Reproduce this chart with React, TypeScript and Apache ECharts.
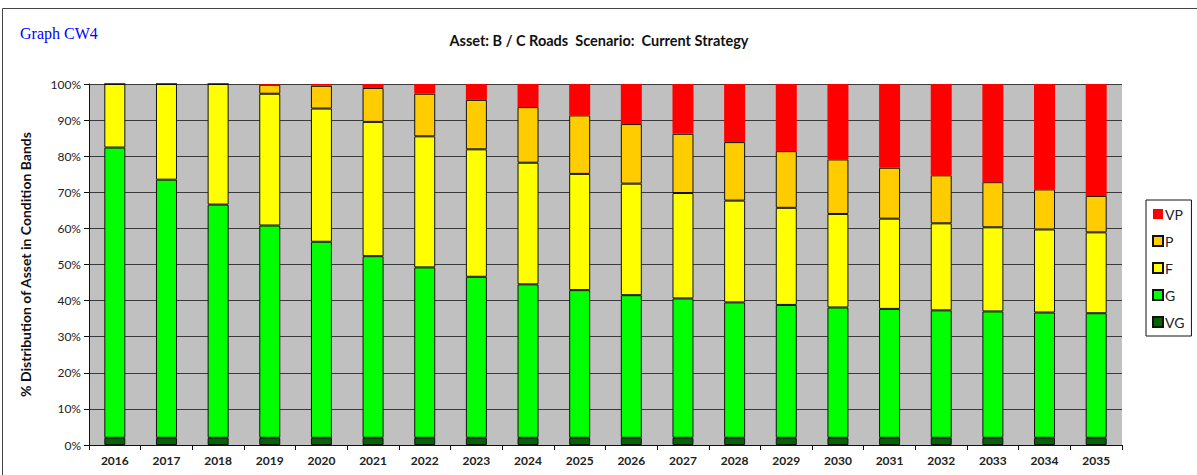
import React, { useEffect, useRef } from "react";
import * as echarts from "echarts";

const years = ["2016","2017","2018","2019","2020","2021","2022","2023","2024","2025","2026","2027","2028","2029","2030","2031","2032","2033","2034","2035"];
const vgValues = [2, 2, 2, 2, 2, 2, 2, 2, 2, 2, 2, 2, 2, 2, 2, 2, 2, 2, 2, 2];
const gValues = [80.4, 71.5, 64.6, 58.8, 54.3, 50.3, 47.2, 44.6, 42.5, 40.9, 39.5, 38.6, 37.5, 36.8, 36.1, 35.7, 35.3, 35.0, 34.7, 34.5];
const fValues = [17.6, 26.5, 33.4, 36.5, 36.9, 37.2, 36.3, 35.3, 33.7, 32.2, 30.9, 29.2, 28.2, 26.9, 25.9, 25.0, 24.1, 23.3, 23.0, 22.4];
const pValues = [0, 0, 0, 2.5, 6.3, 9.4, 11.8, 13.7, 15.4, 16.2, 16.5, 16.4, 16.2, 15.7, 15.1, 14.1, 13.3, 12.5, 11.1, 10.1];
const vpValues = [0, 0, 0, 0.2, 0.5, 1.1, 2.7, 4.4, 6.4, 8.7, 11.1, 13.8, 16.1, 18.6, 20.9, 23.2, 25.3, 27.2, 29.2, 31.0];
const legendOrder = ["VP", "P", "F", "G", "VG"];

const FONT = "Lato, 'Open Sans', sans-serif";

export default function App() {
  const ref = useRef<HTMLDivElement>(null);
  useEffect(() => {
    document.body.style.margin = "0";
    const chart = echarts.init(ref.current!, null, { renderer: "svg" });
    const mk = (name: string, data: number[], color: string, border: boolean) => ({
      name,
      type: "bar",
      stack: "total",
      data,
      barWidth: 21,
      itemStyle: {
        color,
        borderColor: border ? "#111" : color,
        borderWidth: border ? 1 : 0,
      },
    });
    chart.setOption({
      animation: false,
      backgroundColor: "#ffffff",
      textStyle: { fontFamily: FONT },
      title: [
        {
          text: "Graph CW4",
          left: 15,
          top: 20,
          textStyle: { fontFamily: "'Liberation Serif', serif", fontSize: 16, fontWeight: "normal", color: "#0000ff" },
        },
        {
          text: "Asset: B / C Roads  Scenario:  Current Strategy",
          left: 594,
          textAlign: "center",
          top: 28,
          textStyle: { fontFamily: FONT, fontSize: 14.5, fontWeight: "bold", color: "#111" },
        },
      ],
      graphic: [
        {
          type: "rect",
          shape: { x: 2.5, y: 8.5, width: 1300, height: 600 },
          style: { fill: "none", stroke: "#444", lineWidth: 1 },
          silent: true,
        },
      ],
      legend: {
        data: legendOrder,
        orient: "vertical",
        left: 1146,
        top: 200,
        itemWidth: 10,
        itemHeight: 10,
        itemGap: 13,
        padding: [7, 7, 7, 6],
        borderColor: "#111",
        borderWidth: 1,
        icon: "rect",
        textStyle: { fontFamily: FONT, fontSize: 14, color: "#222", padding: [0, 0, 0, -3] },
      },
      grid: { left: 89, right: 75, top: 84, bottom: 30, show: true, backgroundColor: "#c0c0c0", borderWidth: 0 },
      xAxis: {
        type: "category",
        data: years,
        boundaryGap: true,
        axisLine: { show: true, lineStyle: { color: "#111", width: 1 } },
        axisTick: { show: true, length: 5, lineStyle: { color: "#111" } },
        axisLabel: { fontFamily: FONT, fontSize: 12, fontWeight: "bold", color: "#222", margin: 9 },
      },
      yAxis: {
        type: "value",
        min: 0,
        max: 100,
        interval: 10,
        name: "% Distribution of Asset in Condition Bands",
        nameLocation: "middle",
        nameRotate: 90,
        nameGap: 57,
        nameTextStyle: { fontFamily: FONT, fontSize: 14, fontWeight: "bold", color: "#111" },
        axisLine: { show: true, lineStyle: { color: "#111", width: 1 } },
        axisTick: { show: true, length: 5, lineStyle: { color: "#111" } },
        axisLabel: { formatter: "{value}%", fontFamily: FONT, fontSize: 12, color: "#222", margin: 8 },
        splitLine: { show: true, lineStyle: { color: "#3a3a3a", width: 1 } },
      },
      series: [
        mk("VG", vgValues, "#006600", true),
        mk("G", gValues, "#00ff00", true),
        mk("F", fValues, "#ffff00", true),
        mk("P", pValues, "#ffcc00", true),
        mk("VP", vpValues, "#ff0000", false),
      ],
    });
    return () => chart.dispose();
  }, []);
  return <div ref={ref} style={{ width: 1197, height: 475 }} />;
}
